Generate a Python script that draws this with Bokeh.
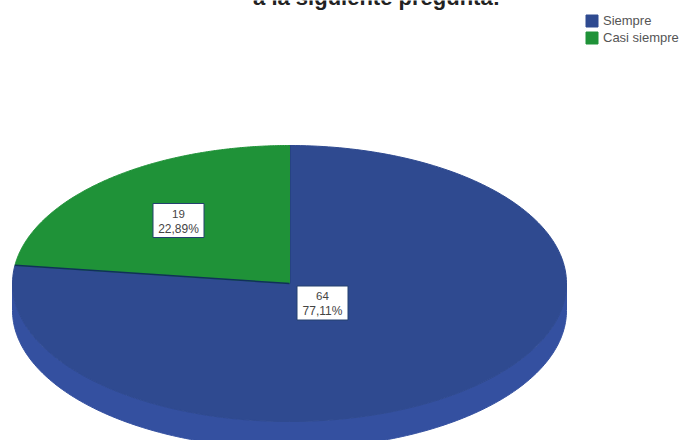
import numpy as np
from bokeh.embed import file_html
from bokeh.resources import INLINE
from bokeh.plotting import figure
from bokeh.models import Range1d, Legend, LegendItem
from bokeh.core.properties import value

categories = ["Siempre", "Casi siempre"]
counts = [64, 19]
percent_labels = ["77,11%", "22,89%"]
title_text = "a la siguiente pregunta:"

BLUE, GREEN, RIM, EDGE = "#2f4a90", "#1f9238", "#3450a0", "#10305a"
CX, CY, RX, RY, DEPTH = 289, 283, 277, 138, 27

p = figure(width=680, height=440, output_backend="svg", toolbar_location=None,
           x_range=Range1d(0, 680), y_range=Range1d(440, 0),
           min_border=0, outline_line_color=None, background_fill_color="white",
           margin=0)
p.axis.visible = False
p.grid.visible = False

def pt(deg):
    # deg measured clockwise from 12 o'clock on the tilted ellipse
    r = np.radians(deg)
    return CX + RX * np.sin(r), CY - RY * np.cos(r)

# rim: visible front half of the pie
a = np.linspace(90, 270, 181)
xf, yf = pt(a)
p.patch(np.r_[xf, xf[::-1]], np.r_[yf + DEPTH, yf[::-1]], fill_color=RIM, line_color=RIM)

# top surface, one slice per value
total = sum(counts)
start = 0.0
renderers = []
for name, n, col in zip(categories, counts, [BLUE, GREEN]):
    sweep = 360.0 * n / total
    a = np.linspace(start, start + sweep, 240)
    x, y = pt(a)
    r = p.patch(np.r_[CX, x], np.r_[CY, y], fill_color=col, line_color=col, line_width=1)
    renderers.append(r)
    p.line([CX, x[0]], [CY, y[0]], line_color=EDGE, line_width=1.5)
    start += sweep

# value boxes
boxes = [(322, 302.5), (178, 220)]
for (bx, by), n, pct in zip(boxes, counts, percent_labels):
    p.rect([bx], [by], width=51, height=34, fill_color="white", line_color="#24406f", line_width=1)
    p.text([bx], [by - 7], text=[str(n)], text_align="center", text_baseline="middle",
           text_font=value("Liberation Sans"), text_font_size="11.5px", text_color="#444444")
    p.text([bx], [by + 8], text=[pct], text_align="center", text_baseline="middle",
           text_font=value("Liberation Sans"), text_font_size="12px", text_color="#444444")

# clipped title
p.text([376], [-3], text=[title_text], text_align="center", text_baseline="alphabetic",
       text_font=value("Liberation Sans"), text_font_style="bold", text_font_size="22px",
       text_color="#222222")

legend = Legend(items=[LegendItem(label=c, renderers=[r]) for c, r in zip(categories, renderers)],
                location=(584, 395), orientation="vertical", background_fill_alpha=0,
                border_line_color=None, glyph_width=15, glyph_height=15, spacing=2,
                label_text_font="Liberation Sans", label_text_font_size="13px",
                label_text_color="#555555", label_standoff=4, padding=3, margin=0)
p.add_layout(legend, "center")

open("out.html", "w").write(file_html(p, INLINE))
